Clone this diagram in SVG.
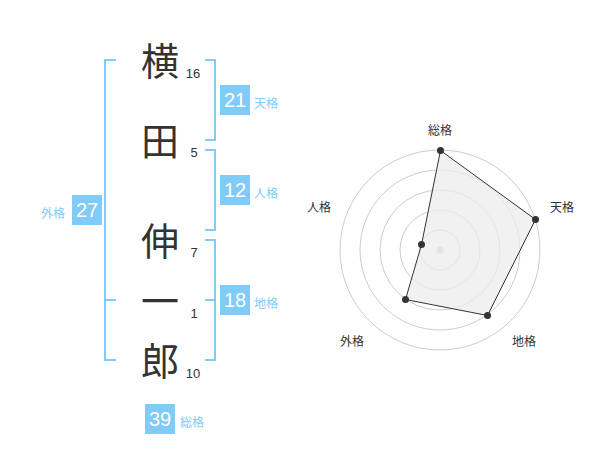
<svg xmlns="http://www.w3.org/2000/svg" width="600" height="470" viewBox="0 0 600 470">
<style>
.k{font-family:"Noto Sans CJK JP","Noto Sans CJK SC",sans-serif;font-size:38px;fill:#333;text-anchor:middle}
.n{font-family:"Liberation Sans",Arial,sans-serif;font-size:13px;fill:#333;text-anchor:middle}
.br{fill:none;stroke:#80cbf7;stroke-width:2}
.box{fill:#80cbf7}
.bv{font-family:"Liberation Sans",Arial,sans-serif;font-size:20px;fill:#fff;text-anchor:middle}
.bl{font-family:"Noto Sans CJK JP","Noto Sans CJK SC",sans-serif;font-size:12px;fill:#80cbf7}
.ring{fill:none;stroke:#ccc;stroke-width:1}
.ax{font-family:"Noto Sans CJK JP","Noto Sans CJK SC",sans-serif;font-size:12px;fill:#333;text-anchor:middle}
</style>
<g id="chars">
<g id="c1"><text class="k" x="160" y="75">横</text><text class="n" x="193" y="78">16</text></g>
<g id="c2"><text class="k" x="160" y="155">田</text><text class="n" x="194" y="157">5</text></g>
<g id="c3"><text class="k" x="160" y="255">伸</text><text class="n" x="194" y="257">7</text></g>
<g id="c4"><text class="k" x="160" y="315">一</text><text class="n" x="194" y="318">1</text></g>
<g id="c5"><text class="k" x="160" y="375">郎</text><text class="n" x="193" y="378">10</text></g>
</g>
<g id="connectors">
<path class="br" d="M205,60 H215 V140 H205"/>
<path class="br" d="M205,150 H215 V230 H205"/>
<path class="br" d="M205,240 H215 V360 H205 M205,300 H215"/>
<path class="br" d="M116,60 H105 V360 H116 M105,300 H116"/>
</g>
<g id="tenkaku"><rect class="box" x="220" y="85" width="30" height="30"/><text class="bv" x="235" y="107">21</text><text class="bl" x="254" y="108">天格</text></g>
<g id="jinkaku"><rect class="box" x="220" y="175" width="30" height="30"/><text class="bv" x="235" y="197">12</text><text class="bl" x="254" y="198">人格</text></g>
<g id="chikaku"><rect class="box" x="220" y="285" width="30" height="30"/><text class="bv" x="235" y="307">18</text><text class="bl" x="254" y="308">地格</text></g>
<g id="gaikaku"><rect class="box" x="72" y="195" width="30" height="30"/><text class="bv" x="87" y="217">27</text><text class="bl" x="41" y="218">外格</text></g>
<g id="soukaku"><rect class="box" x="145" y="404" width="30" height="30"/><text class="bv" x="160" y="426">39</text><text class="bl" x="180" y="427">総格</text></g>
<g id="radar">
<circle class="ring" cx="440" cy="250" r="20"/>
<circle class="ring" cx="440" cy="250" r="40"/>
<circle class="ring" cx="440" cy="250" r="60"/>
<circle class="ring" cx="440" cy="250" r="80"/>
<circle class="ring" cx="440" cy="250" r="100"/>
<circle cx="440" cy="250" r="3.5" fill="#ccc"/>
<polygon points="440.5,150.5 535.5,219.5 487.5,315.5 405.5,299.5 421.5,244.5" fill="#ececec" fill-opacity="0.75" stroke="#333" stroke-width="1"/>
<g fill="#333">
<circle cx="440.5" cy="150.5" r="3.5"/>
<circle cx="535.5" cy="219.5" r="3.5"/>
<circle cx="487.5" cy="315.5" r="3.5"/>
<circle cx="405.5" cy="299.5" r="3.5"/>
<circle cx="421.5" cy="244.5" r="3.5"/>
</g>
<text class="ax" x="440" y="135">総格</text>
<text class="ax" x="562" y="212">天格</text>
<text class="ax" x="524" y="346">地格</text>
<text class="ax" x="352" y="346">外格</text>
<text class="ax" x="319" y="212">人格</text>
</g>
</svg>
